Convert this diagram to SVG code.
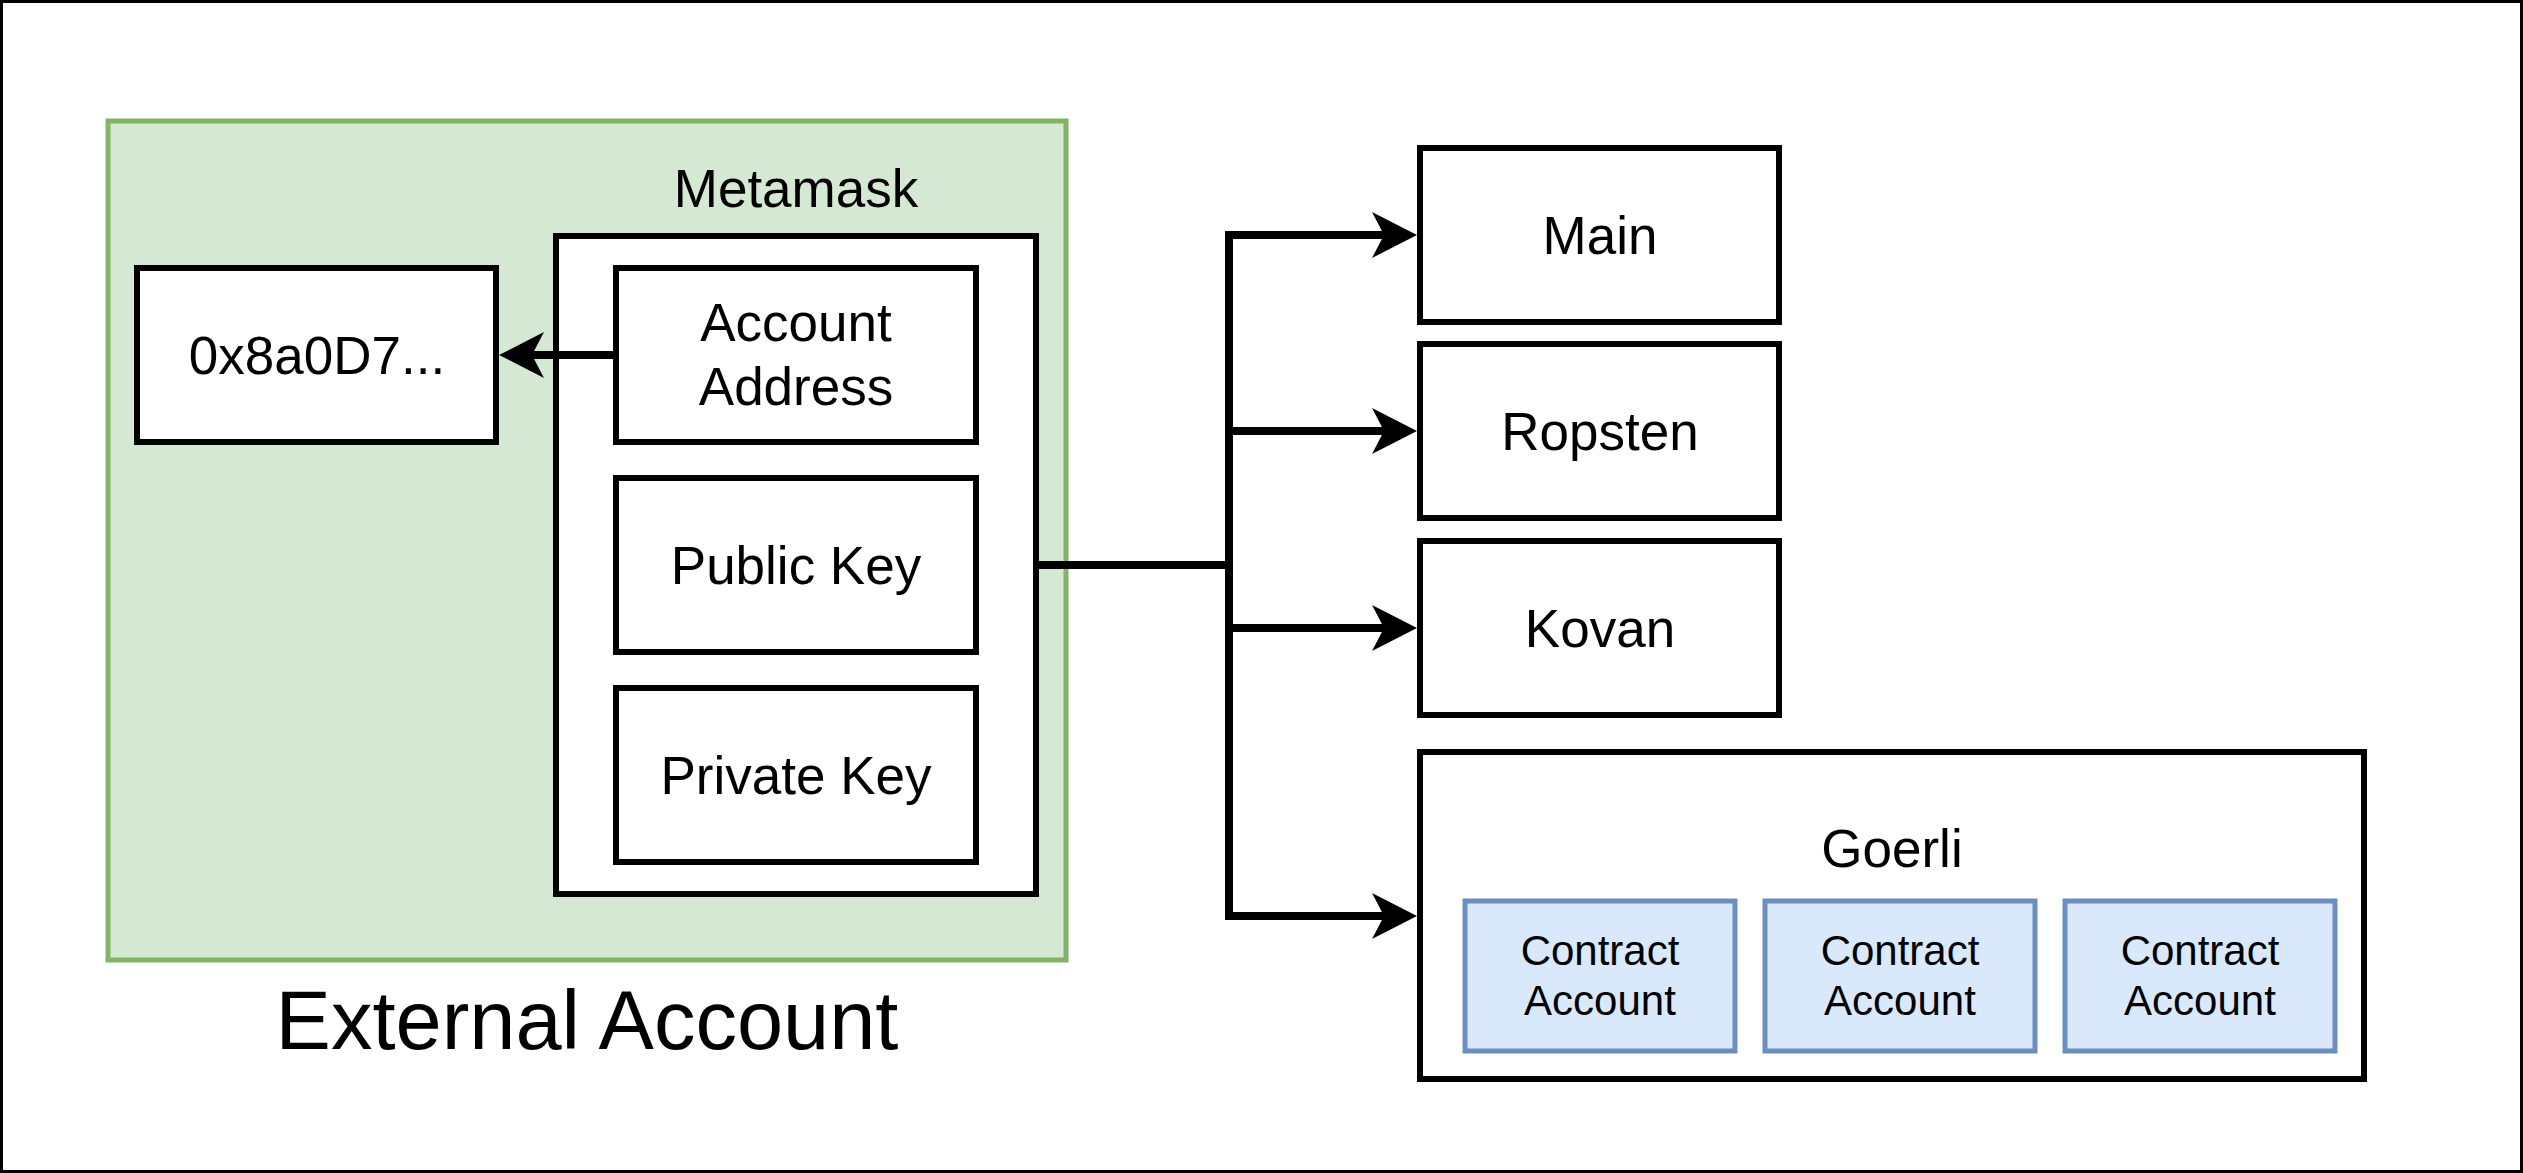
<svg xmlns="http://www.w3.org/2000/svg" width="2523" height="1173" viewBox="0 0 2523 1173">
  <style>
    text { font-family: "Liberation Sans", Arial, sans-serif; fill: #000; text-anchor: middle; }
    .lbl { font-size: 53px; }
    .small { font-size: 42px; }
    .big { font-size: 83px; }
    .box { fill: #fff; stroke: #000; stroke-width: 6; }
    .green { fill: #d5e8d4; stroke: #82b366; stroke-width: 5; }
    .blue { fill: #dae8fc; stroke: #6c8ebf; stroke-width: 5; }
    .frame { fill: #fff; stroke: #000; stroke-width: 3; }
    .edge { fill: none; stroke: #000; stroke-width: 8; stroke-linejoin: miter; stroke-linecap: butt; }
  </style>
  <defs>
    <marker id="arr" markerUnits="userSpaceOnUse" viewBox="-14 -25 50 50" refX="0" refY="0" markerWidth="50" markerHeight="50" orient="auto" overflow="visible">
      <path d="M33,0 L-12,-23 L0,0 L-12,23 Z" fill="#000"/>
    </marker>
  </defs>

  <g id="frame">
    <rect class="frame" x="1.5" y="1.5" width="2520" height="1170"/>
  </g>

  <g id="external-account">
    <rect class="green" x="108" y="121" width="958" height="839"/>
    <text class="big" x="587" y="1049">External Account</text>
  </g>

  <g id="metamask">
    <text class="lbl" x="796" y="207">Metamask</text>
    <rect class="box" x="556" y="236" width="480" height="658"/>
  </g>

  <g id="address-value">
    <rect class="box" x="137" y="268" width="359" height="174"/>
    <text class="lbl" x="317" y="374">0x8a0D7...</text>
  </g>

  <g id="account-address">
    <rect class="box" x="616" y="268" width="360" height="174"/>
    <text class="lbl" x="796" y="341">Account</text>
    <text class="lbl" x="796" y="405">Address</text>
  </g>

  <g id="public-key">
    <rect class="box" x="616" y="478" width="360" height="174"/>
    <text class="lbl" x="796" y="584">Public Key</text>
  </g>

  <g id="private-key">
    <rect class="box" x="616" y="688" width="360" height="174"/>
    <text class="lbl" x="796" y="794">Private Key</text>
  </g>

  <g id="main">
    <rect class="box" x="1420" y="148" width="359" height="174"/>
    <text class="lbl" x="1600" y="254">Main</text>
  </g>

  <g id="ropsten">
    <rect class="box" x="1420" y="344" width="359" height="174"/>
    <text class="lbl" x="1600" y="450">Ropsten</text>
  </g>

  <g id="kovan">
    <rect class="box" x="1420" y="541" width="359" height="174"/>
    <text class="lbl" x="1600" y="647">Kovan</text>
  </g>

  <g id="goerli">
    <rect class="box" x="1420" y="752" width="944" height="327"/>
    <text class="lbl" x="1892" y="867">Goerli</text>
  </g>

  <g id="contract-1">
    <rect class="blue" x="1465" y="901" width="270" height="150"/>
    <text class="small" x="1600" y="965">Contract</text>
    <text class="small" x="1600" y="1015">Account</text>
  </g>

  <g id="contract-2">
    <rect class="blue" x="1765" y="901" width="270" height="150"/>
    <text class="small" x="1900" y="965">Contract</text>
    <text class="small" x="1900" y="1015">Account</text>
  </g>

  <g id="contract-3">
    <rect class="blue" x="2065" y="901" width="270" height="150"/>
    <text class="small" x="2200" y="965">Contract</text>
    <text class="small" x="2200" y="1015">Account</text>
  </g>

  <g id="connectors">
    <path class="edge" d="M616,355 H532" marker-end="url(#arr)"/>
    <path class="edge" d="M1036,565 H1229 V235 H1384" marker-end="url(#arr)"/>
    <path class="edge" d="M1036,565 H1229 V431 H1384" marker-end="url(#arr)"/>
    <path class="edge" d="M1036,565 H1229 V628 H1384" marker-end="url(#arr)"/>
    <path class="edge" d="M1036,565 H1229 V916 H1384" marker-end="url(#arr)"/>
  </g>
</svg>
